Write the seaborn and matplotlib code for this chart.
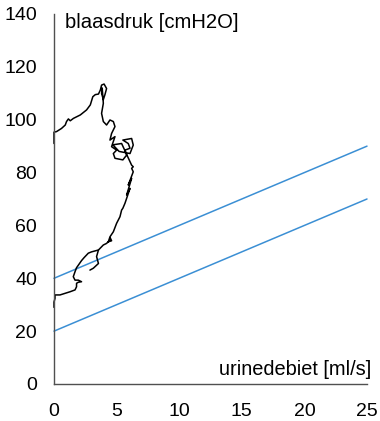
import matplotlib
matplotlib.use("Agg")
import matplotlib.pyplot as plt
import seaborn as sns
import pandas as pd

# Nomogram lines (urinedebiet -> blaasdruk)
line_x = [0, 25]
line_upper = [40, 90]
line_lower = [20, 70]

# Measured pressure-flow curve (flow ml/s, pressure cmH2O); main trace then a short hook
main_flow = [0.0, 0.0, 0.2, 0.6, 0.9, 1.0, 1.15, 1.3, 1.55, 2.1, 2.6, 2.9, 3.1, 3.3, 3.55, 3.7, 3.8, 4.0,
             4.2, 4.07, 3.94, 3.8, 3.85, 3.94, 3.8, 3.94, 4.2, 4.47, 4.74, 4.87, 4.6, 4.47, 4.87,
             4.6, 5.0, 4.74, 4.87, 5.5, 5.8, 5.67, 6.07, 5.93, 5.5, 6.2, 6.33, 6.07, 5.2, 4.7, 5.4,
             6.2, 6.33, 6.2, 6.33, 5.93, 6.2, 5.8, 6.07, 5.67,
             5.5, 5.4, 5.27, 5.0, 4.74, 4.47, 4.34, 4.6, 4.5, 4.47, 4.2, 3.94, 3.55,
             3.0, 2.74, 2.4, 2.2, 1.95, 1.8, 1.68, 1.54, 1.68, 1.94, 2.2, 1.94, 1.8, 1.8, 1.68,
             1.28, 0.88, 0.48, 0.08, 0.08, 0.0, 0.0]
main_pres = [91.0, 95.3, 95.5, 96.7, 98.0, 99.3, 100.3, 99.6, 100.5, 101.8, 103.7, 105.6, 108.7, 109.5, 109.7, 111.2, 113.1, 113.5,
             111.8, 109.5, 107.6, 110.0, 112.0, 106.2, 102.4, 99.3, 98.0, 99.9, 99.3, 97.4, 94.8, 92.3, 93.6,
             89.8, 88.5, 87.2, 85.4, 84.8, 86.6, 88.5, 89.2, 91.0, 92.3, 92.9, 90.4, 87.2, 88.0, 90.5, 91.0,
             82.8, 82.2, 81.6, 80.3, 75.3, 77.8, 71.5, 74.0, 68.4,
             66.5, 65.8, 63.3, 60.8, 57.6, 55.7, 53.8, 54.2, 55.2, 54.5, 53.2, 52.6, 50.7,
             50.0, 49.5, 47.8, 46.7, 45.0, 44.0, 42.5, 40.6, 39.3, 39.3, 38.7, 38.5, 38.1, 36.8, 35.6,
             34.9, 34.3, 33.7, 33.7, 32.4, 31.0, 29.0]
hook_flow = [3.55, 3.4, 3.55, 3.14, 2.87]
hook_pres = [50.7, 48.2, 45.6, 43.8, 43.1]

x_ticks = [0, 5, 10, 15, 20, 25]
y_ticks = [0, 20, 40, 60, 80, 100, 120, 140]

sns.set_theme(style="white")
plt.rcParams["font.family"] = ["Liberation Sans", "DejaVu Sans"]
plt.rcParams["text.color"] = "black"

fig = plt.figure(figsize=(3.8, 4.21), dpi=100)
ax = fig.add_axes([54 / 380, 1 - 384 / 421, (367 - 54) / 380, (384 - 14) / 421])

blue = "#3b8fd4"
df_lines = pd.DataFrame({"x": line_x * 2, "y": line_upper + line_lower,
                         "which": ["upper"] * 2 + ["lower"] * 2})
sns.lineplot(data=df_lines, x="x", y="y", units="which", estimator=None,
             color=blue, linewidth=1.1, ax=ax, sort=False)

df_curve = pd.DataFrame({"flow": main_flow + hook_flow, "pres": main_pres + hook_pres,
                         "seg": [0] * len(main_flow) + [1] * len(hook_flow)})
sns.lineplot(data=df_curve, x="flow", y="pres", units="seg", estimator=None,
             color="black", linewidth=1.1, ax=ax, sort=False)
for l in ax.lines:
    l.set_clip_on(False)

ax.set_xlim(0, 25)
ax.set_ylim(0, 140)
ax.set_xticks(x_ticks)
ax.set_yticks(y_ticks)
ax.set_xlabel("")
ax.set_ylabel("")
sns.despine(ax=ax)
for s in ["left", "bottom"]:
    ax.spines[s].set_color("#505050")
    ax.spines[s].set_linewidth(1.0)
ax.tick_params(axis="both", which="major", direction="out", length=4.3, width=0.8,
               color="#808080", labelsize=14, labelcolor="black")
ax.tick_params(axis="x", pad=9.5)
ax.tick_params(axis="y", pad=8)
ax.set_facecolor("white")

ax.text(65, 421 - 22, "blaasdruk [cmH2O]", transform=None, fontsize=14.6,
        va="center", ha="left", color="black")
fig.text(371 / 380, 1 - 375 / 421, "urinedebiet [ml/s]", fontsize=14.4,
         ha="right", va="baseline", color="black")

fig.savefig("out.png", dpi=100, facecolor="white")
